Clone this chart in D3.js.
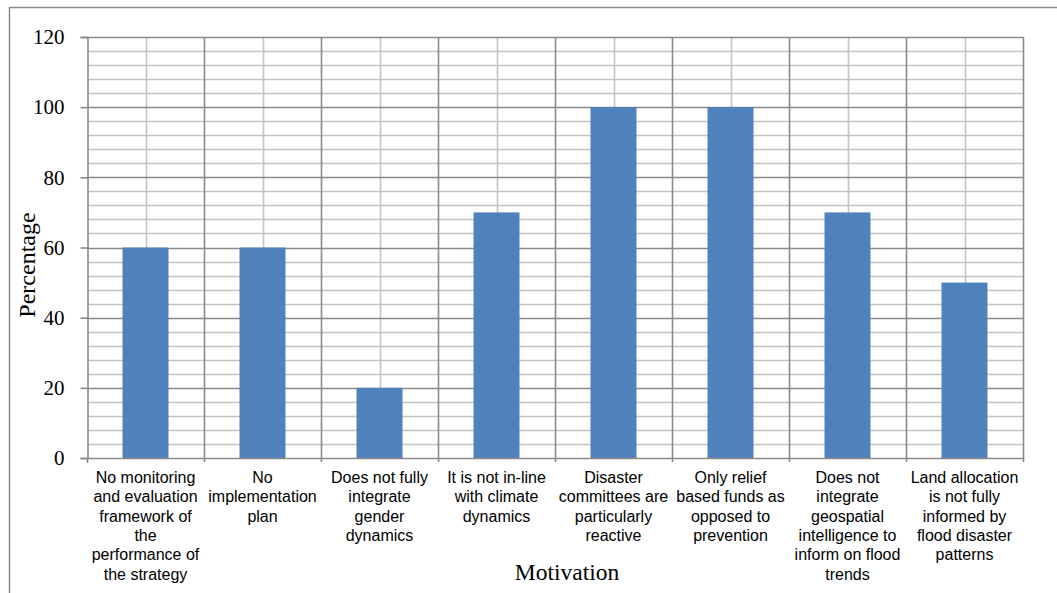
<!DOCTYPE html>
<html>
<head>
<meta charset="utf-8">
<script src="https://cdn.jsdelivr.net/npm/d3@7"></script>
<style>
  html, body { margin: 0; padding: 0; background: #fff; }
  svg { display: block; }
</style>
</head>
<body>
<svg id="chart" width="1057" height="593"></svg>
<script>
// Categories (multi-line labels) and their percentages
const categories = [
  ["No monitoring", "and evaluation", "framework of", "the", "performance of", "the strategy"],
  ["No", "implementation", "plan"],
  ["Does not fully", "integrate", "gender", "dynamics"],
  ["It is not in-line", "with climate", "dynamics"],
  ["Disaster", "committees are", "particularly", "reactive"],
  ["Only relief", "based funds as", "opposed to", "prevention"],
  ["Does not", "integrate", "geospatial", "intelligence to", "inform on flood", "trends"],
  ["Land allocation", "is not fully", "informed by", "flood disaster", "patterns"]
];
const percentages = [60, 60, 20, 70, 100, 100, 70, 50];
const yTicks = [0, 20, 40, 60, 80, 100, 120];
const yMinorStep = 4;
const yTitle = "Percentage";
const xTitle = "Motivation";

const svg = d3.select("#chart");
const plot = { left: 87, right: 1023, top: 37, bottom: 458 };

// Outer frame
svg.append("path")
  .attr("d", "M9.5,593 V7.5 H1057")
  .attr("fill", "none")
  .attr("stroke", "#8c8c8c")
  .attr("stroke-width", 1.5);

const keys = categories.map((c, i) => i);
const x = d3.scaleBand().domain(keys).range([plot.left, plot.right]).paddingInner(0).paddingOuter(0);
const y = d3.scaleLinear().domain([0, 120]).range([plot.bottom, plot.top]);

const g = svg.append("g");

// Minor horizontal gridlines
const minor = d3.range(0, 120 + 0.001, yMinorStep).filter(v => v % 20 !== 0);
g.selectAll(".hminor").data(minor).join("line")
  .attr("x1", plot.left).attr("x2", plot.right)
  .attr("y1", d => Math.round(y(d)) + 0.5).attr("y2", d => Math.round(y(d)) + 0.5)
  .attr("stroke", "#c4c4c4").attr("stroke-width", 1.6);

// Minor vertical gridlines at category centres
g.selectAll(".vminor").data(keys).join("line")
  .attr("x1", d => Math.round(x(d) + x.bandwidth() / 2) + 0.5)
  .attr("x2", d => Math.round(x(d) + x.bandwidth() / 2) + 0.5)
  .attr("y1", plot.top).attr("y2", plot.bottom)
  .attr("stroke", "#c4c4c4").attr("stroke-width", 1.6);

// Major horizontal gridlines
g.selectAll(".hmajor").data(yTicks.filter(v => v > 0)).join("line")
  .attr("x1", plot.left).attr("x2", plot.right)
  .attr("y1", d => Math.round(y(d)) + 0.5).attr("y2", d => Math.round(y(d)) + 0.5)
  .attr("stroke", "#8a8a8a").attr("stroke-width", 1.6);

// Major vertical gridlines at category boundaries
const bounds = keys.map(k => x(k)).concat([plot.right]);
g.selectAll(".vmajor").data(bounds.slice(1)).join("line")
  .attr("x1", d => Math.round(d) + 0.5).attr("x2", d => Math.round(d) + 0.5)
  .attr("y1", plot.top).attr("y2", plot.bottom + 4)
  .attr("stroke", "#8a8a8a").attr("stroke-width", 1.6);

// Bars
const barW = 46;
g.selectAll(".bar").data(percentages).join("rect")
  .attr("x", (d, i) => x(i) + x.bandwidth() / 2 - barW / 2)
  .attr("width", barW)
  .attr("y", d => y(d))
  .attr("height", d => y(0) - y(d))
  .attr("fill", "#4f81bd");

// Y axis
const yAxis = svg.append("g")
  .attr("transform", `translate(${plot.left + 0.5},0)`)
  .call(d3.axisLeft(y).tickValues(yTicks).tickSize(7).tickPadding(16));
yAxis.select(".domain").attr("stroke", "#8a8a8a").attr("stroke-width", 1.6);
yAxis.selectAll(".tick line").attr("stroke", "#8a8a8a").attr("stroke-width", 1.6);
yAxis.selectAll(".tick text")
  .attr("font-family", "'Liberation Serif', 'Times New Roman', serif")
  .attr("font-size", 21).attr("fill", "#000");

// X axis baseline with ticks at category boundaries
svg.append("line")
  .attr("x1", plot.left).attr("x2", plot.right)
  .attr("y1", plot.bottom + 0.5).attr("y2", plot.bottom + 0.5)
  .attr("stroke", "#8a8a8a").attr("stroke-width", 1.6);
svg.append("line")
  .attr("x1", plot.left + 0.5).attr("x2", plot.left + 0.5)
  .attr("y1", plot.bottom).attr("y2", plot.bottom + 5)
  .attr("stroke", "#8a8a8a").attr("stroke-width", 1.6);

// Category labels
const labels = svg.append("g")
  .attr("font-family", "'Liberation Sans', Arial, sans-serif")
  .attr("font-size", 16)
  .attr("fill", "#000")
  .attr("text-anchor", "middle");
labels.selectAll("text").data(categories).join("text")
  .attr("x", (d, i) => x(i) + x.bandwidth() / 2)
  .attr("y", 483)
  .each(function (lines) {
    d3.select(this).selectAll("tspan").data(lines).join("tspan")
      .attr("x", d3.select(this).attr("x"))
      .attr("dy", (l, j) => j === 0 ? 0 : 19.3)
      .text(l => l);
  });

// Axis titles
svg.append("text")
  .attr("x", 567).attr("y", 580)
  .attr("text-anchor", "middle")
  .attr("font-family", "'Liberation Serif', 'Times New Roman', serif")
  .attr("font-size", 23.5)
  .text(xTitle);

svg.append("text")
  .attr("transform", "translate(35,265) rotate(-90)")
  .attr("text-anchor", "middle")
  .attr("font-family", "'Liberation Serif', 'Times New Roman', serif")
  .attr("font-size", 24)
  .text(yTitle);
</script>
</body>
</html>
